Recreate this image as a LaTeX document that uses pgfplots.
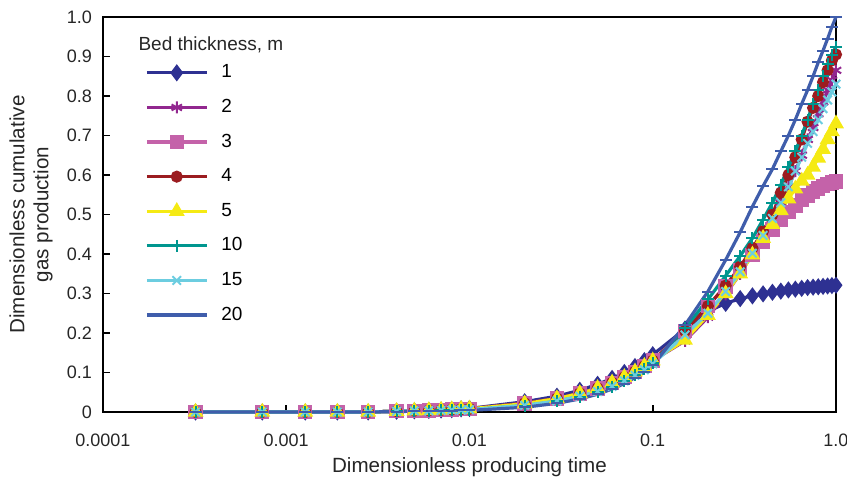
\documentclass[border=0pt]{standalone}
\usepackage{fontspec}
\setmainfont{Liberation Sans}
\usepackage{pgfplots}
\pgfplotsset{compat=1.18}
\usepackage{pgfplotstable}

\definecolor{c1}{HTML}{2E3192}
\definecolor{c2}{HTML}{92278F}
\definecolor{c3}{HTML}{C462A9}
\definecolor{c4}{HTML}{9B1C20}
\definecolor{c5}{HTML}{F5EA14}
\definecolor{c10}{HTML}{00968F}
\definecolor{c15}{HTML}{6CCDE0}
\definecolor{c20}{HTML}{3F5DAB}

% dimensionless time vs dimensionless cumulative gas, one column per bed thickness
\pgfplotstableread{
t       s1    s2    s3    s4    s5    s10   s15   s20
0.00032 0     0     0     0     0     0     0     0
0.00074 0     0     0     0     0     0     0     0
0.00127 0     0     0     0     0     0     0     0
0.0019  0     0     0     0     0     0     0     0
0.0028  0     0     0     0     0     0     0     0
0.004   0.002 0.002 0.002 0.002 0.002 0.002 0.002 0.001
0.005   0.003 0.003 0.003 0.003 0.003 0.003 0.003 0.002
0.006   0.004 0.004 0.004 0.004 0.004 0.003 0.003 0.002
0.007   0.005 0.005 0.005 0.005 0.005 0.004 0.004 0.003
0.008   0.006 0.006 0.006 0.006 0.006 0.005 0.005 0.003
0.009   0.008 0.007 0.007 0.007 0.007 0.005 0.005 0.004
0.01    0.009 0.008 0.008 0.008 0.008 0.006 0.006 0.004
0.02    0.026 0.022 0.022 0.022 0.021 0.016 0.017 0.012
0.03    0.040 0.034 0.034 0.034 0.034 0.027 0.028 0.022
0.04    0.055 0.047 0.047 0.047 0.047 0.039 0.040 0.033
0.05    0.070 0.060 0.060 0.060 0.060 0.051 0.052 0.045
0.06    0.085 0.074 0.074 0.074 0.074 0.064 0.065 0.058
0.07    0.100 0.088 0.088 0.088 0.088 0.078 0.079 0.072
0.08    0.115 0.102 0.102 0.102 0.102 0.093 0.093 0.087
0.09    0.130 0.116 0.116 0.116 0.116 0.108 0.107 0.102
0.1     0.145 0.130 0.130 0.130 0.130 0.123 0.122 0.118
0.15    0.210 0.180 0.205 0.205 0.182 0.212 0.195 0.220
0.2     0.255 0.240 0.268 0.268 0.245 0.285 0.250 0.305
0.25    0.275 0.298 0.318 0.320 0.300 0.345 0.305 0.385
0.3     0.287 0.350 0.360 0.368 0.350 0.395 0.355 0.455
0.35    0.294 0.400 0.398 0.415 0.398 0.440 0.402 0.520
0.4     0.299 0.445 0.432 0.458 0.440 0.487 0.447 0.572
0.45    0.303 0.490 0.462 0.500 0.475 0.530 0.490 0.615
0.5     0.306 0.530 0.487 0.555 0.510 0.575 0.530 0.660
0.55    0.309 0.570 0.507 0.600 0.540 0.620 0.570 0.700
0.6     0.311 0.610 0.523 0.645 0.565 0.660 0.610 0.740
0.65    0.313 0.650 0.537 0.690 0.585 0.700 0.645 0.780
0.7     0.315 0.690 0.548 0.735 0.600 0.740 0.680 0.815
0.75    0.316 0.720 0.558 0.770 0.620 0.780 0.710 0.850
0.8     0.317 0.755 0.566 0.800 0.643 0.815 0.740 0.885
0.85    0.318 0.785 0.572 0.835 0.665 0.850 0.768 0.915
0.9     0.319 0.815 0.577 0.865 0.690 0.880 0.790 0.945
0.95    0.320 0.840 0.581 0.890 0.710 0.905 0.810 0.975
1.0     0.321 0.865 0.584 0.905 0.730 0.925 0.830 1.000
}\gas

\begin{document}
\begin{tikzpicture}
\useasboundingbox (0,0) rectangle (423.5pt,238.5pt);
\begin{axis}[
    at={(51.5pt,32.5pt)}, anchor=south west,
    scale only axis, width=366.5pt, height=197.5pt,
    xmode=log, xmin=1e-4, xmax=1, ymin=0, ymax=1,
    xtick={1e-4,1e-3,1e-2,1e-1,1},
    xticklabels={0.0001,0.001,0.01,0.1,1.0},
    xminorticks=false,
    ytick={0,0.1,0.2,0.3,0.4,0.5,0.6,0.7,0.8,0.9,1},
    yticklabels={0,0.1,0.2,0.3,0.4,0.5,0.6,0.7,0.8,0.9,1.0},
    tick pos=left, tick align=inside, major tick length=3.5pt,
    axis line style={line width=1pt},
    every tick/.style={black, line width=0.8pt},
    tick label style={font=\fontsize{9}{10}\selectfont, text=black!85},
    xticklabel style={yshift=-7.5pt},
    yticklabel style={xshift=-2pt},
    /pgf/number format/assume math mode=true,
    xlabel={Dimensionless producing time},
    ylabel={Dimensionless cumulative\\gas production},
    label style={font=\fontsize{10.3}{12}\selectfont, text=black!85},
    ylabel style={align=center, at={(axis description cs:-0.098,0.5)}, anchor=center},
    xlabel style={at={(axis description cs:0.5,-0.139)}, anchor=center},
    clip=false,
    every axis plot/.append style={line width=1.6pt},
    legend image code/.code={\draw[mark repeat=2,mark phase=2,#1]
        plot coordinates {(0pt,0pt) (15pt,0pt) (30pt,0pt)};},
    legend style={draw=none, fill=none, at={(axis description cs:0.057,0.89)},
        anchor=north west, inner sep=0pt, row sep=5.3pt, column sep=5pt,
        font=\fontsize{9.5}{11}\selectfont,
        nodes={text height=7pt, text depth=2pt, inner sep=1.5pt}},
    legend cell align=left,
]
\addplot[c1, mark=diamond*, mark size=3pt] table[x=t,y=s1]{\gas};
\addlegendentry{1}
\addplot[c2, mark=asterisk, mark size=3pt, mark options={line width=1pt}] table[x=t,y=s2]{\gas};
\addlegendentry{2}
\addplot[c3, mark=square*, mark size=2.8pt] table[x=t,y=s3]{\gas};
\addlegendentry{3}
\addplot[c4, mark=*, mark size=2.2pt] table[x=t,y=s4]{\gas};
\addlegendentry{4}
\addplot[c5, mark=triangle*, mark size=3pt] table[x=t,y=s5]{\gas};
\addlegendentry{5}
\addplot[c10, mark=+, mark size=3pt, mark options={line width=1pt}] table[x=t,y=s10]{\gas};
\addlegendentry{10}
\addplot[c15, mark=x, mark size=3pt, mark options={line width=1pt}] table[x=t,y=s15]{\gas};
\addlegendentry{15}
\addplot[c20, mark=-, mark size=3pt, mark options={line width=1pt}] table[x=t,y=s20]{\gas};
\addlegendentry{20}
\node[anchor=west, inner sep=0pt, font=\fontsize{9.5}{11}\selectfont, text=black!85]
    at (axis description cs:0.048,0.929) {Bed thickness, m};
\end{axis}
\end{tikzpicture}
\end{document}
